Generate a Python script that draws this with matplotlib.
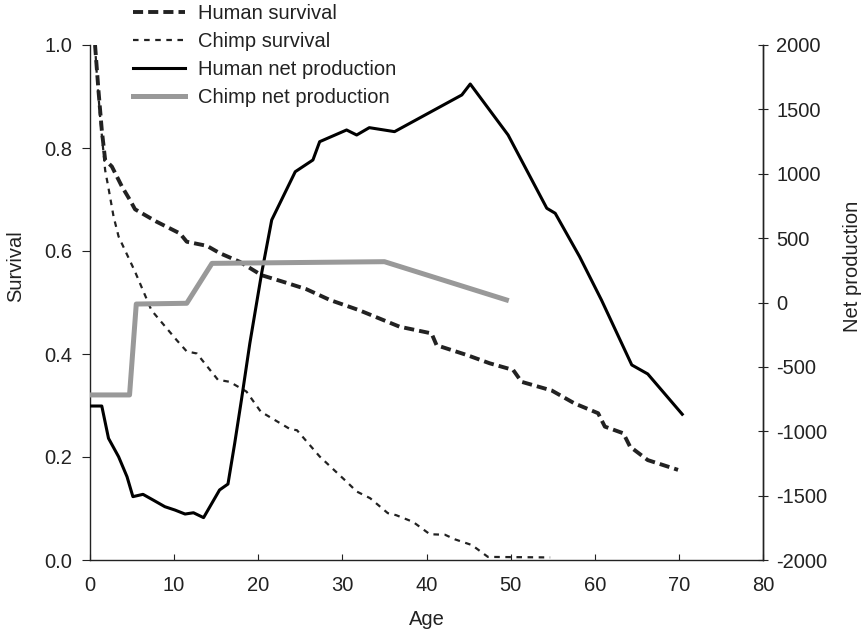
import matplotlib.pyplot as plt
import numpy as np

plt.rcParams['font.family'] = ['Liberation Sans', 'DejaVu Sans']
plt.rcParams['font.size'] = 14.5

# human survival (thick dashed)
hs_age = [0.6, 1.0, 1.4, 1.8, 2.6, 3.8, 4.75, 5.35, 7.9, 10.7, 11.5, 13.9, 15.4, 17.8,
          20.4, 23.0, 25.7, 28.5, 32.0, 36.8, 40.6, 41.2, 44.8, 47.5, 50.3, 51.3,
          54.9, 57.6, 60.4, 61.2, 63.4, 64.2, 66.3, 69.9]
hs_val = [1.0, 0.913, 0.835, 0.777, 0.764, 0.725, 0.699, 0.681, 0.657, 0.634, 0.618,
          0.610, 0.596, 0.579, 0.553, 0.540, 0.526, 0.505, 0.485, 0.453, 0.440, 0.417,
          0.398, 0.382, 0.369, 0.346, 0.329, 0.304, 0.285, 0.259, 0.246, 0.220, 0.194,
          0.175]

# chimp survival (thin dotted)
cs_age = [0.6, 0.8, 1.2, 1.8, 2.2, 2.8, 3.4, 5.35, 7.3, 10.3, 11.5, 12.7, 15.2, 16.6,
          18.6, 20.3, 23.8, 24.6, 27.3, 30.5, 31.7, 33.3, 35.4, 36.4, 38.4, 39.4,
          40.4, 42.2, 43.4, 45.4, 47.3, 54.7]
cs_val = [1.0, 0.945, 0.861, 0.757, 0.722, 0.667, 0.628, 0.560, 0.485, 0.427, 0.405,
          0.401, 0.350, 0.346, 0.327, 0.288, 0.254, 0.252, 0.201, 0.152, 0.133, 0.120,
          0.091, 0.087, 0.074, 0.062, 0.050, 0.049, 0.040, 0.029, 0.006, 0.005]

# human net production
hp_age = [0, 1.4, 2.2, 3.4, 4.4, 5.1, 6.3, 7.5, 8.9, 10.1, 11.3, 12.3, 13.5, 15.4, 16.4,
          17.2, 18.0, 19.0, 20.4, 21.6, 24.4, 26.5, 27.3, 30.5, 31.7, 33.2, 36.2, 44.2,
          45.2, 49.7, 54.3, 55.3, 58.2, 60.8, 64.4, 66.3, 70.4]
hp_val = [-804, -804, -1055, -1198, -1353, -1508, -1490, -1534, -1586, -1612, -1643,
          -1633, -1671, -1456, -1410, -1094, -757, -317, 227, 641, 1016, 1107, 1249, 1340,
          1301, 1358, 1327, 1612, 1697, 1301, 732, 693, 356, 19, -485, -555, -868]

# chimp net production
cp_age = [0, 4.7, 5.5, 11.5, 14.5, 35.0, 49.5]
cp_val = [-718, -718, -12, -6, 304, 317, 20]

fig = plt.figure(figsize=(8.64, 6.3), dpi=100)
ax = fig.add_axes([90/864, 1 - 560/630, 673/864, 515/630])
ax2 = ax.twinx()

l1, = ax.plot(hs_age, hs_val, color='#222222', lw=2.8, dashes=(2.6, 1.3),
              label='Human survival')
l2, = ax.plot(cs_age, cs_val, color='#222222', lw=1.6, dashes=(2.5, 2.5),
              label='Chimp survival')
l3, = ax2.plot(hp_age, hp_val, color='black', lw=2.2, label='Human net production')
l4, = ax2.plot(cp_age, cp_val, color='#999999', lw=3.6, label='Chimp net production')

ax.set_xlim(0, 80)
ax.set_ylim(0, 1)
ax2.set_ylim(-2000, 2000)
ax.set_xticks(np.arange(0, 81, 10))
ax.set_yticks(np.arange(0, 1.01, 0.2))
ax.set_yticklabels(['0.0', '0.2', '0.4', '0.6', '0.8', '1.0'])
ax2.set_yticks(np.arange(-2000, 2001, 500))
ax2.set_yticklabels([str(v) for v in range(-2000, 2001, 500)])

for a in (ax, ax2):
    a.spines['top'].set_visible(False)
    for s in a.spines.values():
        s.set_linewidth(1.0)
        s.set_color('#222222')
ax2.spines['left'].set_visible(False)
ax2.spines['bottom'].set_visible(False)

ax.tick_params(axis='x', direction='in', length=4.3, pad=11.5, colors='#222222')
ax.tick_params(axis='y', direction='out', length=5.8, pad=7, colors='#222222')
ax2.tick_params(axis='y', direction='inout', length=7.2, pad=6, colors='#222222')

ax.set_xlabel('Age', color='#222222')
ax.set_ylabel('Survival', color='#222222')
ax2.set_ylabel('Net production', color='#222222')
ax.xaxis.set_label_coords(0.5, -0.097)
ax.yaxis.set_label_coords(-0.097, 0.571)
ax2.yaxis.set_label_coords(1.119, 0.571)

fig.legend(handles=[l1, l2, l3, l4], loc='upper left',
           bbox_to_anchor=(133/864, 1 - 4/630), frameon=False, borderpad=0,
           borderaxespad=0, handlelength=2.6, handletextpad=0.65,
           labelspacing=0.45, labelcolor='#222222')

fig.savefig('out.png', dpi=100)
